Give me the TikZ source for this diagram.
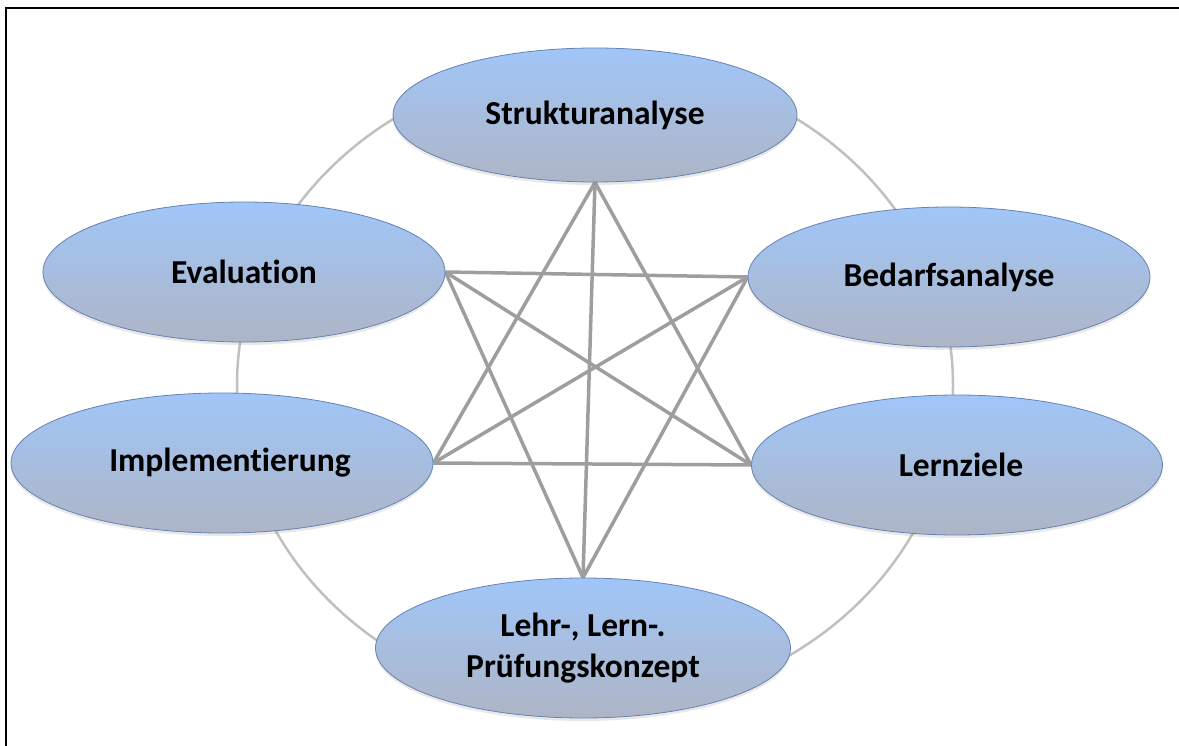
\documentclass[tikz,border=0pt]{standalone}
\usepackage{fontspec}
\setmainfont{Carlito}[Ligatures=NoCommon]
\usetikzlibrary{shapes.geometric,backgrounds,shadows}
\definecolor{ellTop}{RGB}{160,198,248}
\definecolor{ellMid}{RGB}{152,184,234}
\definecolor{ellBot}{RGB}{174,181,198}
\definecolor{ellLine}{RGB}{100,130,180}
\definecolor{linkGray}{RGB}{158,158,158}
\definecolor{arcGray}{RGB}{192,192,192}
\begin{document}
\begin{tikzpicture}[x=1pt,y=-1pt,
  phase/.style={ellipse, draw=ellLine, line width=0.8pt, top color=ellTop, middle color=ellMid, bottom color=ellBot,
    inner sep=0pt, font=\fontsize{33.5}{41}\selectfont\bfseries, align=center,
    drop shadow={opacity=0.18, shadow xshift=0pt, shadow yshift=-3pt}},
  link/.style={draw=linkGray, line width=3.5pt},
  cyclearc/.style={draw=arcGray, line width=2.5pt}]
\useasboundingbox (0,0) rectangle (1179,746);
\draw[line width=2pt] (1179,8) -- (6,8) -- (6,746);
\coordinate (ctr) at (595,385);
\node[phase, minimum width=404, minimum height=134] (struk) at (595,115) {Strukturanalyse};
\node[phase, minimum width=402, minimum height=140] (eval) at (244,272) {Evaluation};
\node[phase, minimum width=402, minimum height=140] (bedarf) at (949,277) {Bedarfsanalyse};
\node[phase, minimum width=422, minimum height=140] (impl) at (222,463) {\hspace*{16pt}Implementierung};
\node[phase, minimum width=411, minimum height=140] (lern) at (957,465) {\hspace*{8pt}Lernziele};
\node[phase, minimum width=415, minimum height=140] (lehr) at (583,648) {Lehr-, Lern-.\\Prüfungskonzept};
\begin{scope}[on background layer]
\draw[cyclearc] (ctr) ellipse [x radius=358, y radius=322];
\draw[link] (struk.south) -- (lehr.north);
\draw[link] (struk.south) -- (impl.east);
\draw[link] (struk.south) -- (lern.west);
\draw[link] (lehr.north) -- (eval.east);
\draw[link] (lehr.north) -- (bedarf.west);
\draw[link] (eval.east) -- (bedarf.west);
\draw[link] (impl.east) -- (lern.west);
\draw[link] (eval.east) -- (lern.west);
\draw[link] (impl.east) -- (bedarf.west);
\end{scope}
\end{tikzpicture}
\end{document}
